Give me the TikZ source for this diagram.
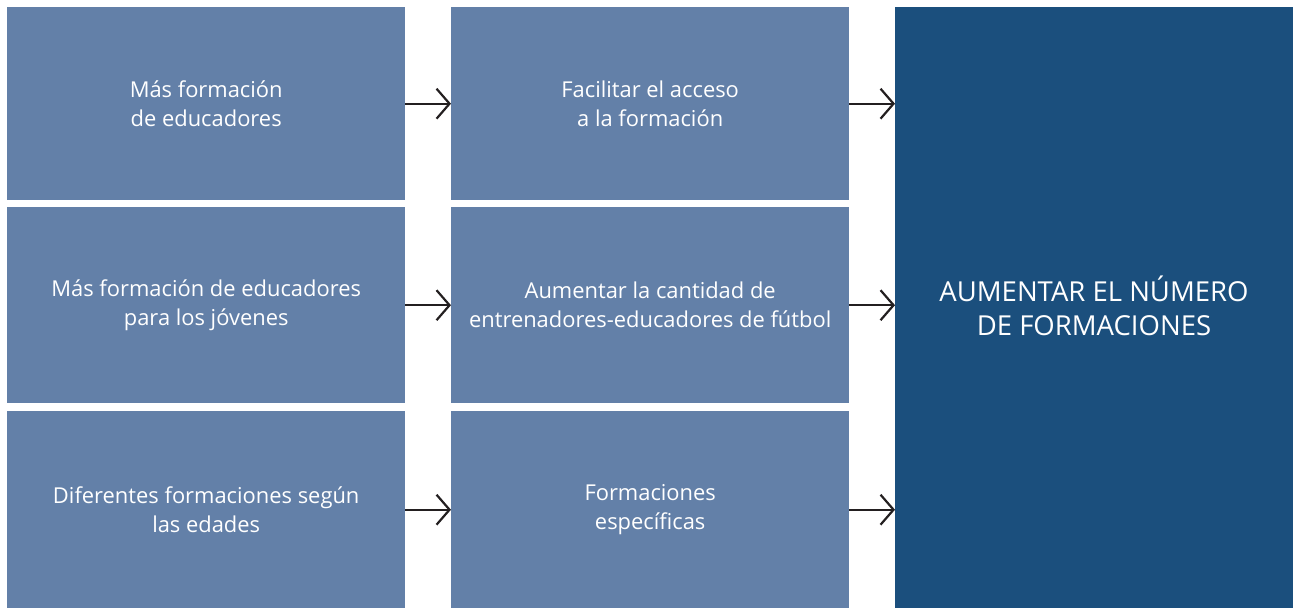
\documentclass[tikz,border=0pt]{standalone}
\usepackage{fontspec}
\setmainfont{Open Sans}
\usetikzlibrary{arrows.meta}
\definecolor{boxlight}{HTML}{6380A8}
\definecolor{boxdark}{HTML}{1B4F7D}
\definecolor{arrowcol}{HTML}{231F20}
\tikzset{
  smallbox/.style={fill=boxlight, draw=none, minimum width=398pt, inner sep=0pt, text=white, align=center, font=\fontsize{21.9}{29}\selectfont, anchor=north west},
  bigbox/.style={fill=boxdark, draw=none, inner sep=0pt, anchor=north west, minimum width=398pt, minimum height=601pt},
  bigtext/.style={text=white, align=center, font=\fontsize{27.5}{34}\selectfont},
  flowarrow/.style={draw=arrowcol, line width=2.2pt, -{Straight Barb[length=13pt,width=30pt,line width=2.2pt]}}
}
\begin{document}
\begin{tikzpicture}[x=1pt,y=-1pt]
\useasboundingbox (0,0) rectangle (1293,608);
\node[smallbox, minimum height=193pt] (a1) at (7,7) {Más formación\\de educadores};
\node[smallbox, minimum height=196pt] (a2) at (7,207) {Más formación de educadores\\para los jóvenes};
\node[smallbox, minimum height=197pt] (a3) at (7,411) {Diferentes formaciones según\\las edades};
\node[smallbox, minimum height=193pt] (b1) at (451,7) {Facilitar el acceso\\a la formación};
\node[smallbox, minimum height=196pt] (b2) at (451,207) {Aumentar la cantidad de\\entrenadores-educadores de fútbol};
\node[smallbox, minimum height=197pt] (b3) at (451,411) {Formaciones\\específicas};
\node[bigbox] (c) at (895,7) {};
\node[bigtext] (ct) at (1094,306) {AUMENTAR EL NÚMERO\\DE FORMACIONES};
\draw[flowarrow] (a1.east) -- (b1.west);
\draw[flowarrow] (a2.east) -- (b2.west);
\draw[flowarrow] (a3.east) -- (b3.west);
\draw[flowarrow] (b1.east) -- (b1.east -| c.west);
\draw[flowarrow] (b2.east) -- (b2.east -| c.west);
\draw[flowarrow] (b3.east) -- (b3.east -| c.west);
\end{tikzpicture}
\end{document}
